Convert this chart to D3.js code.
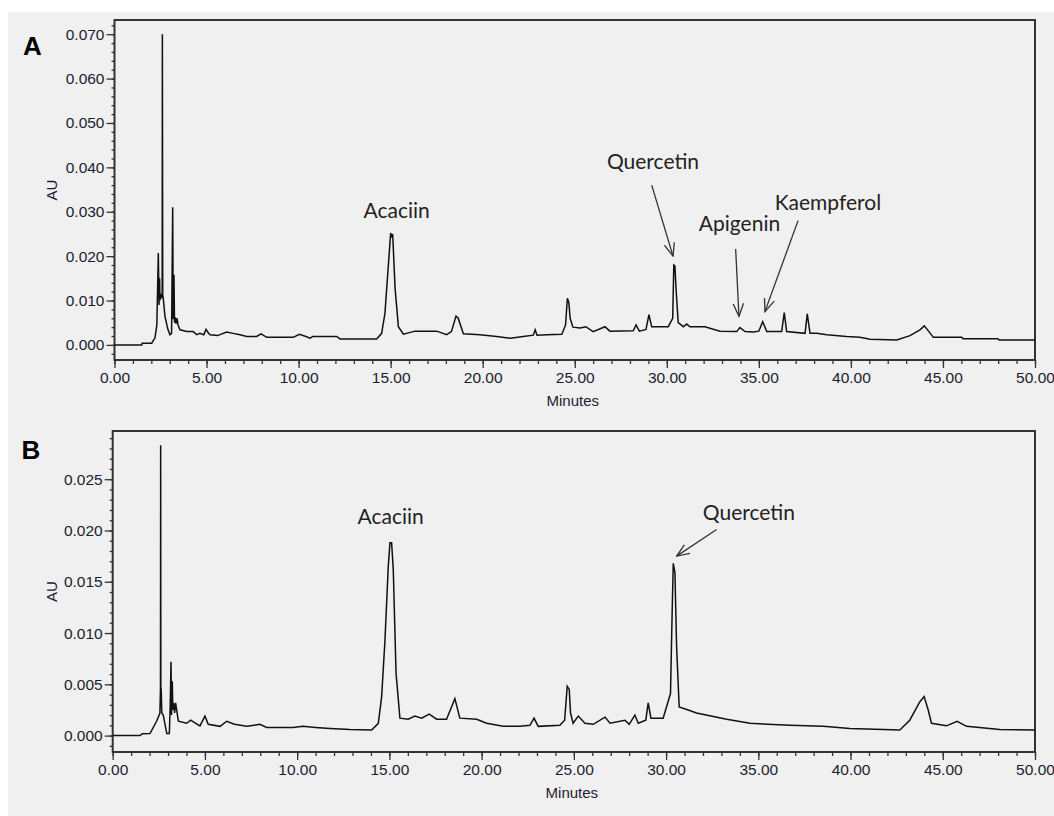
<!DOCTYPE html>
<html>
<head>
<meta charset="utf-8">
<script src="https://cdnjs.cloudflare.com/ajax/libs/d3/7.8.5/d3.min.js"></script>
<style>
  body { margin: 0; background: #fff; }
  svg { display: block; }
  .tick text { font-family: "Liberation Sans", Arial, sans-serif; font-size: 15.5px; fill: #1c1c30; }
  .tick line { stroke: #333; stroke-width: 1.3; }
</style>
</head>
<body>
<svg id="chart" width="1054" height="816"></svg>
<script>
// tick labels
var xTicks = [0, 5, 10, 15, 20, 25, 30, 35, 40, 45, 50];
var yTicksA = [0, 0.01, 0.02, 0.03, 0.04, 0.05, 0.06, 0.07];
var yTicksB = [0, 0.005, 0.01, 0.015, 0.02, 0.025];

// chromatogram A (minutes, AU)
var timesA = [0, 1.48, 1.5, 2.02, 2.2, 2.3, 2.38, 2.42, 2.45, 2.47, 2.52, 2.59, 2.6, 2.62, 2.65, 2.74, 2.9, 3.01, 3.1, 3.16,
  3.19, 3.23, 3.26, 3.3, 3.34, 3.4, 3.45, 3.56, 3.92, 4.28, 4.47, 4.64, 4.85, 4.97, 5.1, 5.19, 5.6, 6.09, 6.44, 6.82,
  7.18, 7.72, 7.96, 8.27, 9.71, 10.04, 10.4, 10.62, 10.78, 12.07, 12.25, 14.24, 14.51, 14.69, 14.87, 15.0, 15.06, 15.11,
  15.24, 15.42, 15.69, 16.32, 17.14, 17.5, 18.04, 18.3, 18.55, 18.67, 18.95, 19.85, 20.76, 21.5, 22.2, 22.75, 22.85,
  22.95, 23.5, 24.3, 24.5, 24.6, 24.68, 24.75, 24.9, 25.3, 25.6, 26.0, 26.64, 26.91, 28.18, 28.33, 28.51, 28.87, 29.03,
  29.18, 30.08, 30.32, 30.38, 30.44, 30.5, 30.62, 30.9, 31.08, 31.26, 32.07, 32.89, 33.8, 33.97, 34.25, 34.7, 35.0,
  35.21, 35.43, 36.24, 36.38, 36.51, 37.51, 37.63, 37.78, 38.14, 38.69, 39.77, 40.49, 41.04, 42.49, 43.21, 43.75,
  43.99, 44.48, 46.02, 46.1, 47.99, 48.05, 50];
var auA = [0, 0, 0.0004, 0.0004, 0.0016, 0.0045, 0.0207, 0.009, 0.015, 0.010, 0.0115, 0.0105, 0.070, 0.0113, 0.0105,
  0.0064, 0.0035, 0.0023, 0.0026, 0.031, 0.0058, 0.0158, 0.005, 0.0062, 0.0048, 0.006, 0.0045, 0.0034, 0.0030, 0.0030,
  0.0023, 0.0026, 0.0023, 0.0035, 0.0027, 0.0023, 0.0021, 0.0029, 0.0026, 0.0023, 0.0019, 0.0019, 0.0025, 0.0017,
  0.0017, 0.0024, 0.0019, 0.0015, 0.0019, 0.0019, 0.00135, 0.00135, 0.0026, 0.0071, 0.0176, 0.0252, 0.0245, 0.0250,
  0.0128, 0.0041, 0.0024, 0.0031, 0.0031, 0.0031, 0.0023, 0.0030, 0.0065, 0.0060, 0.0025, 0.0023, 0.0019, 0.0015,
  0.0019, 0.0022, 0.0034, 0.0022, 0.0023, 0.0024, 0.0045, 0.0105, 0.0095, 0.0060, 0.0040, 0.0038, 0.0041, 0.0030,
  0.0041, 0.0031, 0.0032, 0.0045, 0.0031, 0.0035, 0.0068, 0.0041, 0.0041, 0.0060, 0.0180, 0.0178, 0.0128, 0.0050,
  0.0041, 0.0047, 0.0041, 0.0041, 0.0031, 0.0030, 0.0039, 0.0030, 0.0029, 0.0031, 0.0052, 0.0030, 0.0030, 0.0073,
  0.0030, 0.0026, 0.0070, 0.0026, 0.0026, 0.0023, 0.0019, 0.0017, 0.0013, 0.0011, 0.0021, 0.0034, 0.0043, 0.0017,
  0.0017, 0.0014, 0.0014, 0.0011, 0.0011];

// chromatogram B (minutes, AU)
var timesB = [0, 1.48, 1.6, 2.02, 2.38, 2.56, 2.59, 2.6, 2.61, 2.63, 2.66, 2.74, 2.93, 3.07, 3.12, 3.16, 3.19, 3.23,
  3.26, 3.3, 3.36, 3.41, 3.56, 4.01, 4.23, 4.5, 4.73, 5.0, 5.18, 5.82, 6.18, 6.6, 7.26, 7.98, 8.35, 9.79, 10.3, 11.0,
  11.78, 12.86, 14.04, 14.4, 14.58, 14.76, 14.94, 15.03, 15.12, 15.21, 15.36, 15.57, 16.02, 16.38, 16.75, 17.16,
  17.56, 18.1, 18.55, 18.82, 19.73, 20.27, 21.17, 22.08, 22.62, 22.84, 23.07, 24.24, 24.5, 24.64, 24.75, 24.82, 24.96,
  25.24, 25.6, 26.05, 26.69, 26.96, 27.77, 28.0, 28.31, 28.49, 28.9, 29.03, 29.18, 29.84, 30.24, 30.33, 30.39, 30.48,
  30.57, 30.71, 31.2, 31.65, 33.28, 34.55, 36.72, 38.52, 39.96, 41.77, 42.67, 43.21, 43.76, 43.99, 44.21, 44.39, 45.2,
  45.78, 46.29, 48.09, 50];
var auB = [0, 0, 0.00017, 0.0002, 0.0014, 0.0022, 0.0046, 0.0283, 0.003, 0.0046, 0.0022, 0.0020, 0.0002, 0.0002,
  0.003, 0.0072, 0.002, 0.0053, 0.0025, 0.0032, 0.0022, 0.0032, 0.0014, 0.0012, 0.0015, 0.0012, 0.00095, 0.0019,
  0.0011, 0.0009, 0.0014, 0.0011, 0.0009, 0.0011, 0.0008, 0.0008, 0.0009, 0.0008, 0.0007, 0.0006, 0.00055, 0.0012,
  0.0038, 0.0093, 0.0165, 0.0188, 0.0188, 0.0162, 0.0061, 0.0017, 0.0016, 0.0019, 0.0017, 0.0021, 0.0016, 0.0016,
  0.0036, 0.0017, 0.0016, 0.0012, 0.0009, 0.0009, 0.0010, 0.0017, 0.0009, 0.0010, 0.0015, 0.0048, 0.0045, 0.0022,
  0.0012, 0.0019, 0.0012, 0.0011, 0.0018, 0.0012, 0.0015, 0.0011, 0.0020, 0.0012, 0.0015, 0.0032, 0.0017, 0.0017,
  0.0041, 0.0121, 0.0168, 0.0159, 0.0087, 0.0028, 0.0025, 0.0022, 0.0016, 0.0012, 0.0010, 0.0009, 0.0007, 0.0006,
  0.00055, 0.0015, 0.0033, 0.0038, 0.0025, 0.0012, 0.00095, 0.0014, 0.0009, 0.0006, 0.00055];

// peak names, placed in data units
var labelsA = [
  {text: "Acaciin", t: 15.33, au: 0.0285, anchor: "middle"},
  {text: "Quercetin", t: 29.25, au: 0.0396, anchor: "middle"},
  {text: "Apigenin", t: 33.95, au: 0.0257, anchor: "middle"},
  {text: "Kaempferol", t: 35.86, au: 0.0304, anchor: "start"}
];
var arrowsA = [
  {t1: 29.18, a1: 0.0360, t2: 30.34, a2: 0.0200},
  {t1: 33.74, a1: 0.0216, t2: 33.92, a2: 0.0064},
  {t1: 37.13, a1: 0.0280, t2: 35.33, a2: 0.0075}
];
var labelsB = [
  {text: "Acaciin", t: 15.07, au: 0.0206, anchor: "middle"},
  {text: "Quercetin", t: 34.49, au: 0.0210, anchor: "middle"}
];
var arrowsB = [
  {t1: 32.74, a1: 0.0201, t2: 30.57, a2: 0.0175}
];

var svg = d3.select("#chart");

svg.append("rect").attr("x", 8).attr("y", 12).attr("width", 1046).attr("height", 804).attr("fill", "#f0f0f0");

var defs = svg.append("defs");
defs.append("marker")
  .attr("id", "head")
  .attr("markerUnits", "userSpaceOnUse")
  .attr("viewBox", "0 0 14 12")
  .attr("refX", 13).attr("refY", 6)
  .attr("markerWidth", 14).attr("markerHeight", 12)
  .attr("orient", "auto")
  .append("path")
  .attr("d", "M0,0.8 L13,6 L0,11.2")
  .attr("fill", "none")
  .attr("stroke", "#333")
  .attr("stroke-width", 1.3);

var drawPanel = function(p) {
  var g = svg.append("g");

  var x = d3.scaleLinear().domain([0, 50]).range([p.left, 1035]);
  var y = d3.scaleLinear().domain(p.yDomain).range([p.bottom, p.top]);

  // minor ticks
  var minorX = d3.range(0, 51, 1);
  var minorY = d3.range(Math.ceil(p.yDomain[0] / p.minor) * p.minor, p.yDomain[1], p.minor);

  g.append("g")
    .attr("transform", "translate(0," + p.bottom + ")")
    .call(d3.axisBottom(x).tickValues(minorX).tickSize(4).tickFormat(""))
    .call(function(s) { s.select(".domain").remove(); });
  g.append("g")
    .attr("transform", "translate(0," + p.bottom + ")")
    .call(d3.axisBottom(x).tickValues(xTicks).tickSize(8).tickPadding(4).tickFormat(d3.format(".2f")))
    .call(function(s) { s.select(".domain").remove(); });

  g.append("g")
    .attr("transform", "translate(" + p.left + ",0)")
    .call(d3.axisLeft(y).tickValues(minorY).tickSize(3).tickFormat(""))
    .call(function(s) { s.select(".domain").remove(); });
  g.append("g")
    .attr("transform", "translate(" + p.left + ",0)")
    .call(d3.axisLeft(y).tickValues(p.yTicks).tickSize(8).tickPadding(2).tickFormat(d3.format(".3f")))
    .call(function(s) { s.select(".domain").remove(); });

  g.append("rect")
    .attr("x", p.left).attr("y", p.top)
    .attr("width", 1035 - p.left).attr("height", p.bottom - p.top)
    .attr("fill", "none").attr("stroke", "#333").attr("stroke-width", 2);

  var pts = p.times.map(function(t, i) { return {t: t, v: p.au[i]}; });
  var line = d3.line()
    .x(function(d) { return x(d.t); })
    .y(function(d) { return y(d.v); });

  g.append("path")
    .datum(pts)
    .attr("d", line)
    .attr("fill", "none")
    .attr("stroke", "#111")
    .attr("stroke-width", 1.5)
    .attr("stroke-linejoin", "miter");

  g.append("text")
    .attr("x", (p.left + 1035) / 2 - 2).attr("y", p.bottom + 46)
    .attr("text-anchor", "middle")
    .attr("font-family", "Liberation Sans, Arial, sans-serif")
    .attr("font-size", 15).attr("fill", "#1c1c30")
    .text("Minutes");

  g.append("text")
    .attr("transform", "translate(57," + (p.top + p.bottom) / 2 + ") rotate(-90)")
    .attr("text-anchor", "middle")
    .attr("font-family", "Liberation Sans, Arial, sans-serif")
    .attr("font-size", 15).attr("fill", "#1c1c30")
    .text("AU");

  g.append("text")
    .attr("x", p.tagX).attr("y", p.tagY)
    .attr("font-family", "Liberation Sans, Arial, sans-serif")
    .attr("font-weight", "bold")
    .attr("font-size", 26).attr("fill", "#000")
    .text(p.tag);

  g.selectAll(".peak")
    .data(p.labels)
    .enter()
    .append("text")
    .attr("x", function(d) { return x(d.t); })
    .attr("y", function(d) { return y(d.au); })
    .attr("text-anchor", function(d) { return d.anchor; })
    .attr("font-family", "Lato, sans-serif")
    .attr("font-size", 21).attr("fill", "#222")
    .text(function(d) { return d.text; });

  g.selectAll(".arrow")
    .data(p.arrows)
    .enter()
    .append("line")
    .attr("x1", function(d) { return x(d.t1); })
    .attr("y1", function(d) { return y(d.a1); })
    .attr("x2", function(d) { return x(d.t2); })
    .attr("y2", function(d) { return y(d.a2); })
    .attr("stroke", "#333").attr("stroke-width", 1.3)
    .attr("marker-end", "url(#head)");
};

drawPanel({
  tag: "A", tagX: 23, tagY: 55,
  left: 114.5, top: 20, bottom: 360,
  yDomain: [-0.0034, 0.0732], yTicks: yTicksA, minor: 0.002,
  times: timesA, au: auA, labels: labelsA, arrows: arrowsA
});

drawPanel({
  tag: "B", tagX: 21.5, tagY: 459,
  left: 112.7, top: 431, bottom: 752,
  yDomain: [-0.0016, 0.0297], yTicks: yTicksB, minor: 0.001,
  times: timesB, au: auB, labels: labelsB, arrows: arrowsB
});
</script>
</body>
</html>
